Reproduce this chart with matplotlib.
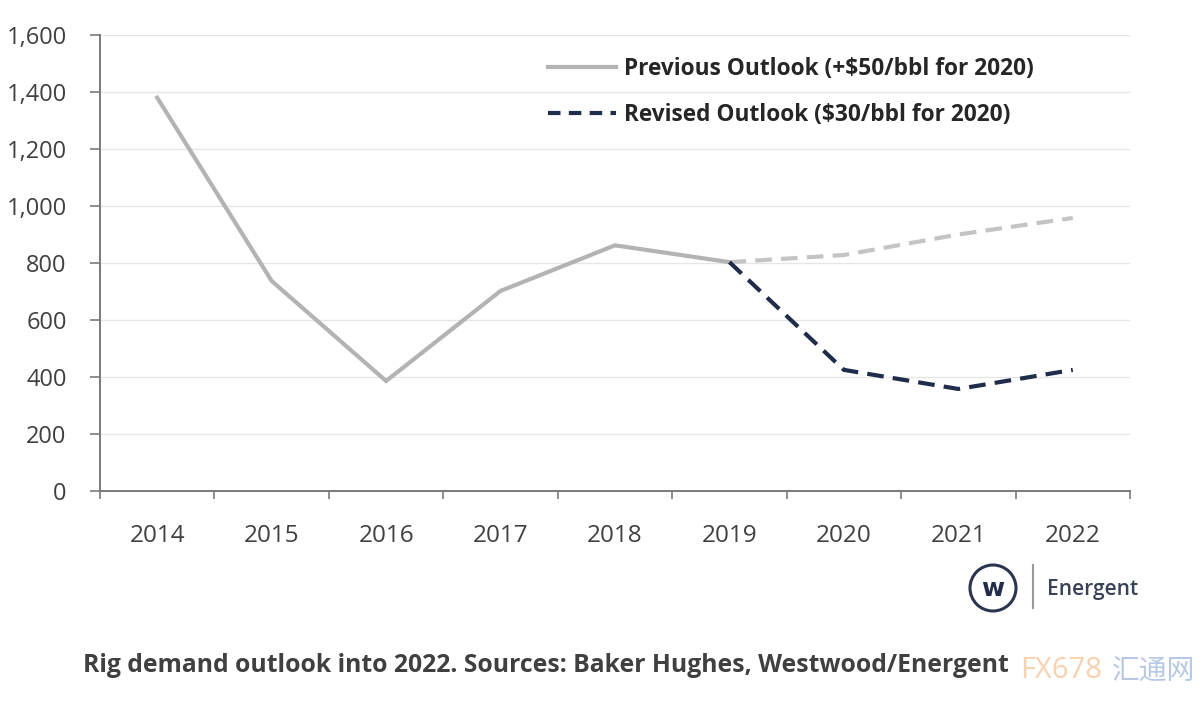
import matplotlib
matplotlib.use("Agg")
import matplotlib.pyplot as plt
from matplotlib.patches import Ellipse
from matplotlib.lines import Line2D

plt.rcParams['font.family'] = ['Open Sans', 'DejaVu Sans']

years = ["2014", "2015", "2016", "2017", "2018", "2019", "2020", "2021", "2022"]
previous_hist = [1380, 737, 386, 702, 862, 803]
previous_fcst = [803, 828, 900, 958]
revised_fcst = [803, 425, 358, 425]
yticks = [0, 200, 400, 600, 800, 1000, 1200, 1400, 1600]
legend_labels = ["Previous Outlook (+$50/bbl for 2020)", "Revised Outlook ($30/bbl for 2020)"]
caption = "Rig demand outlook into 2022. Sources: Baker Hughes, Westwood/Energent"

grey = "#b3b3b3"
grey_light = "#c4c4c4"
navy = "#1f2c4a"
txt = "#404040"

fig = plt.figure(figsize=(12, 7.1), dpi=100)
ax = fig.add_axes([100/1200, 1-491/710, 1030/1200, 456/710])

x_hist = list(range(len(previous_hist)))
x_fcst = list(range(len(previous_hist)-1, len(years)))

ax.plot(x_fcst, previous_fcst, color=grey_light, lw=3, ls=(0, (4, 2.2)), dash_capstyle='butt')
ax.plot(x_hist, previous_hist, color=grey, lw=3, solid_joinstyle='miter')
ax.plot(x_fcst, revised_fcst, color=navy, lw=3, ls=(0, (4, 2.2)), dash_capstyle='butt')

ax.set_xlim(-0.5, len(years)-0.5)
ax.set_ylim(0, 1600)
ax.set_yticks(yticks)
ax.set_yticklabels([f"{v:,}" for v in yticks])
ax.set_xticks(range(len(years)))
ax.set_xticklabels(years)
ax.set_xticks([i - 0.5 for i in range(len(years)+1)], minor=True)
ax.tick_params(axis='x', which='major', length=0, pad=24, labelsize=17.5, labelcolor=txt)
ax.tick_params(axis='x', which='minor', length=6, width=1.2, color="#7a7a7a", direction='out')
ax.tick_params(axis='y', length=7, width=1.2, color="#7a7a7a", pad=17, labelsize=17, labelcolor=txt)
ax.grid(axis='y', color="#e6e6e6", lw=1)
ax.set_axisbelow(True)
for s in ['top', 'right']:
    ax.spines[s].set_visible(False)
for s in ['left', 'bottom']:
    ax.spines[s].set_color("#7a7a7a")
    ax.spines[s].set_linewidth(1.4)

handles = [Line2D([], [], color=grey, lw=3),
           Line2D([], [], color=navy, lw=3, ls=(0, (3, 2)))]
leg = fig.legend(handles, legend_labels, loc='upper left', bbox_to_anchor=(528/1200, 1-37/710),
                 frameon=False, handlelength=3.0, handletextpad=0.35, labelspacing=0.95,
                 prop={'size': 16.3, 'weight': 'bold'})
for t in leg.get_texts():
    t.set_color("#262626")

# Logo
circ = Ellipse((993/1200, 1-588/710), 46/1200, 46/710, transform=fig.transFigure, fill=False,
               ec="#2a3550", lw=2.2)
fig.patches.append(circ)
fig.text(993/1200, 1-589/710, "w", ha='center', va='center', fontsize=18, fontweight='bold',
         color="#1f2c4a", family='DejaVu Sans')
fig.add_artist(Line2D([1033/1200, 1033/1200], [1-565/710, 1-608/710], transform=fig.transFigure,
                      color="#9a9a9a", lw=1.5))
fig.text(1047/1200, 1-589/710, "Energent", ha='left', va='center', fontsize=15, fontweight='semibold',
         color="#3a4257")

fig.text(83/1200, 1-665/710, caption, ha='left', va='center', fontsize=17.8, fontweight='bold', color=txt)

# watermark
fig.text(1020/1200, 1-671/710, "FX678", ha='left', va='center', fontsize=21, color="#f7c9a0", alpha=0.85)
fig.text(1112/1200, 1-671/710, "汇通网", ha='left', va='center', fontsize=20, color="#a9bfe0",
         family=['Noto Sans CJK SC', 'DejaVu Sans'], alpha=0.85)

fig.savefig("out.png", dpi=100)
